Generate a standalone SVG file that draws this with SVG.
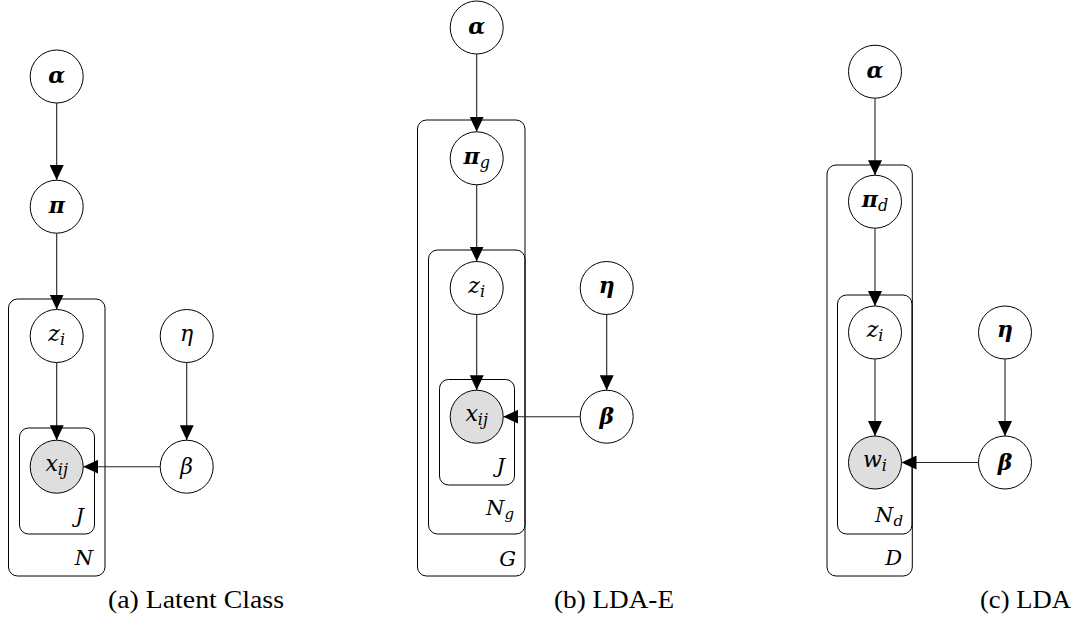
<svg xmlns="http://www.w3.org/2000/svg" width="1079" height="627" viewBox="0 0 1079 627">
<style>
.node{fill:#fff;stroke:#000;stroke-width:1}
.obs{fill:#dedede;stroke:#000;stroke-width:1}
.plate{fill:none;stroke:#000;stroke-width:1}
.edge{stroke:#222;stroke-width:1.1;fill:none;marker-end:url(#ah)}
.m{font-style:italic;font-size:22px;text-anchor:middle;fill:#000}
.b{font-weight:bold}
.sub{font-size:16px;font-weight:normal}
.pl{font-style:italic;font-size:21px;text-anchor:end;fill:#000}
.pl .sub{font-size:15px}
.cap{font-size:26px;fill:#000}
</style>
<defs>
<marker id="ah" markerUnits="userSpaceOnUse" markerWidth="15" markerHeight="14" refX="15" refY="7" orient="auto">
<path d="M0,0 L15,7 L0,14 z" fill="#000"/>
</marker>
</defs>
<rect width="1079" height="627" fill="#fff"/>

<g font-family="'DejaVu Serif', 'Liberation Serif', serif">
<!-- Panel (a) -->
<g id="a-plates">
<rect class="plate" x="8.5" y="299" width="96.5" height="277" rx="9"/>
<text class="pl" x="93" y="565">N</text>
<rect class="plate" x="19.5" y="428" width="75" height="106" rx="9"/>
<text class="pl" x="84" y="523">J</text>
</g>
<g id="a-alpha"><circle class="node" cx="56.7" cy="76.5" r="26.5"/><text class="m b" x="56.7" y="83">α</text></g>
<g id="a-pi"><circle class="node" cx="56.7" cy="206.7" r="26.5"/><text class="m b" x="56.7" y="213">π</text></g>
<g id="a-z"><circle class="node" cx="56.7" cy="336" r="26.5"/><text class="m" x="56.7" y="341">z<tspan class="sub" dy="4">i</tspan></text></g>
<g id="a-x"><circle class="obs" cx="56.7" cy="466.7" r="26.5"/><text class="m" x="56.7" y="471">x<tspan class="sub" dy="4">ij</tspan></text></g>
<g id="a-eta"><circle class="node" cx="186.7" cy="336" r="26.5"/><text class="m" x="186.7" y="341">η</text></g>
<g id="a-beta"><circle class="node" cx="186.7" cy="466.7" r="26.5"/><text class="m" x="186.7" y="474">β</text></g>

<!-- Panel (b) -->
<g id="b-plates">
<rect class="plate" x="417.5" y="120" width="107.5" height="456" rx="9"/>
<text class="pl" x="516" y="566">G</text>
<rect class="plate" x="428.5" y="250" width="96.5" height="284" rx="9"/>
<text class="pl" x="514" y="515">N<tspan class="sub" dy="4">g</tspan></text>
<rect class="plate" x="439.5" y="379.5" width="75" height="105.5" rx="9"/>
<text class="pl" x="505" y="473">J</text>
</g>
<g id="b-alpha"><circle class="node" cx="476.7" cy="27.5" r="26.5"/><text class="m b" x="476.7" y="34">α</text></g>
<g id="b-pi"><circle class="node" cx="476.7" cy="158.3" r="26.5"/><text class="m" x="476.7" y="164"><tspan class="b">π</tspan><tspan class="sub" dy="4">g</tspan></text></g>
<g id="b-z"><circle class="node" cx="476.7" cy="288" r="26.5"/><text class="m" x="476.7" y="293">z<tspan class="sub" dy="4">i</tspan></text></g>
<g id="b-x"><circle class="obs" cx="476.7" cy="416.7" r="26.5"/><text class="m" x="476.7" y="421">x<tspan class="sub" dy="4">ij</tspan></text></g>
<g id="b-eta"><circle class="node" cx="606.7" cy="288" r="26.5"/><text class="m b" x="606.7" y="293">η</text></g>
<g id="b-beta"><circle class="node" cx="606.7" cy="416.7" r="26.5"/><text class="m b" x="606.7" y="424">β</text></g>

<!-- Panel (c) -->
<g id="c-plates">
<rect class="plate" x="827" y="165" width="85.3" height="411" rx="9"/>
<text class="pl" x="902" y="565">D</text>
<rect class="plate" x="837.5" y="295" width="74.5" height="239" rx="9"/>
<text class="pl" x="903" y="522">N<tspan class="sub" dy="4">d</tspan></text>
</g>
<g id="c-alpha"><circle class="node" cx="875" cy="71.7" r="26.5"/><text class="m b" x="875" y="78">α</text></g>
<g id="c-pi"><circle class="node" cx="875" cy="201.7" r="26.5"/><text class="m" x="875" y="207"><tspan class="b">π</tspan><tspan class="sub" dy="4">d</tspan></text></g>
<g id="c-z"><circle class="node" cx="875" cy="332.5" r="26.5"/><text class="m" x="875" y="337">z<tspan class="sub" dy="4">i</tspan></text></g>
<g id="c-w"><circle class="obs" cx="875" cy="462.5" r="26.5"/><text class="m" x="875" y="467">w<tspan class="sub" dy="4">i</tspan></text></g>
<g id="c-eta"><circle class="node" cx="1005" cy="332.5" r="26.5"/><text class="m b" x="1005" y="337">η</text></g>
<g id="c-beta"><circle class="node" cx="1005" cy="462.5" r="26.5"/><text class="m b" x="1005" y="470">β</text></g>
</g>

<g id="connectors">
<line class="edge" x1="56.7" y1="103" x2="56.7" y2="180"/>
<line class="edge" x1="56.7" y1="233.2" x2="56.7" y2="309.5"/>
<line class="edge" x1="56.7" y1="362.5" x2="56.7" y2="440.2"/>
<line class="edge" x1="186.7" y1="362.5" x2="186.7" y2="440.2"/>
<line class="edge" x1="160.2" y1="466.7" x2="83.2" y2="466.7"/>

<line class="edge" x1="476.7" y1="54" x2="476.7" y2="131.8"/>
<line class="edge" x1="476.7" y1="184.8" x2="476.7" y2="261.5"/>
<line class="edge" x1="476.7" y1="314.5" x2="476.7" y2="390.2"/>
<line class="edge" x1="606.7" y1="314.5" x2="606.7" y2="390.2"/>
<line class="edge" x1="580.2" y1="416.7" x2="503.2" y2="416.7"/>

<line class="edge" x1="875" y1="98.2" x2="875" y2="175.2"/>
<line class="edge" x1="875" y1="228.2" x2="875" y2="306"/>
<line class="edge" x1="875" y1="359" x2="875" y2="436"/>
<line class="edge" x1="1005" y1="359" x2="1005" y2="436"/>
<line class="edge" x1="978.5" y1="462.5" x2="901.5" y2="462.5"/>
</g>

<g id="captions" font-family="'Liberation Serif', 'Times New Roman', serif">
<text class="cap" x="108" y="608" textLength="176" lengthAdjust="spacingAndGlyphs">(a) Latent Class</text>
<text class="cap" x="554" y="608" textLength="120" lengthAdjust="spacingAndGlyphs">(b) LDA-E</text>
<text class="cap" x="980" y="608" textLength="91" lengthAdjust="spacingAndGlyphs">(c) LDA</text>
</g>
</svg>
